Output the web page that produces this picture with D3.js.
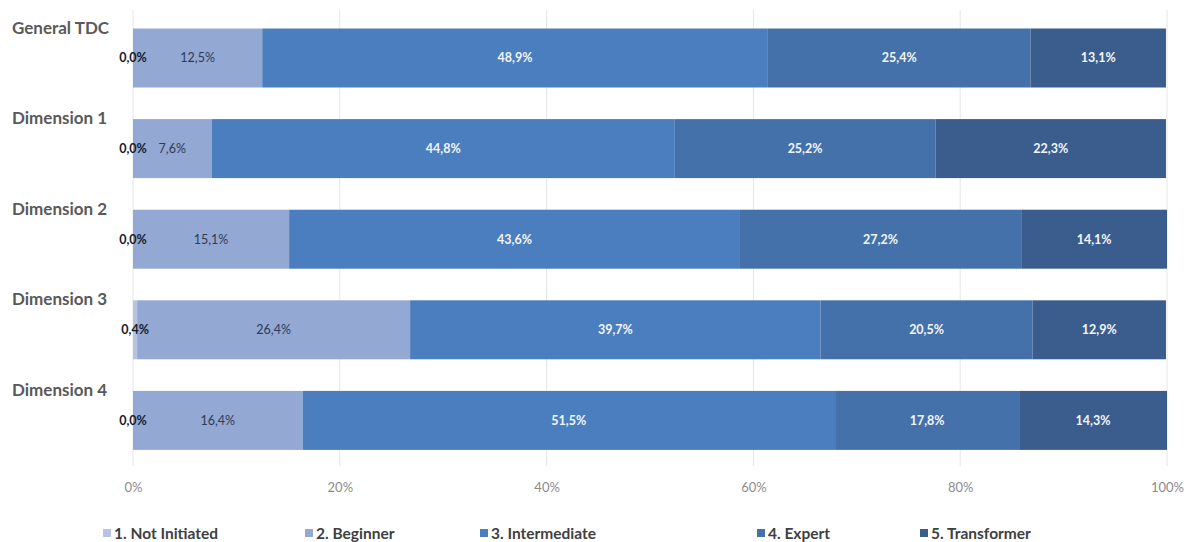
<!DOCTYPE html>
<html>
<head>
<meta charset="utf-8">
<script src="https://cdn.jsdelivr.net/npm/d3@7"></script>
<style>
  html, body { margin: 0; padding: 0; background: #ffffff; }
  svg { display: block; }
</style>
</head>
<body>
<svg id="chart" width="1190" height="542"></svg>
<script>
// Maturity levels per dimension (percent of respondents)
const categories = ["General TDC", "Dimension 1", "Dimension 2", "Dimension 3", "Dimension 4"];
const levels = ["1. Not Initiated", "2. Beginner", "3. Intermediate", "4. Expert", "5. Transformer"];
const notInitiated = [0.0, 0.0, 0.0, 0.4, 0.0];
const beginner     = [12.5, 7.6, 15.1, 26.4, 16.4];
const intermediate = [48.9, 44.8, 43.6, 39.7, 51.5];
const expert       = [25.4, 25.2, 27.2, 20.5, 17.8];
const transformer  = [13.1, 22.3, 14.1, 12.9, 14.3];
const tickValues   = [0, 20, 40, 60, 80, 100];

const seriesValues = [notInitiated, beginner, intermediate, expert, transformer];
const colors = ["#b7c4df", "#93a8d3", "#4a7ebe", "#4471a9", "#3a5d8e"];
const labelColors = ["#141c2c", "#2e3b56", "#f2f6fc", "#f2f6fc", "#f2f6fc"];

const rows = categories.map((c, i) => {
  const r = { category: c };
  levels.forEach((l, j) => { r[l] = seriesValues[j][i]; });
  return r;
});

const svg = d3.select("#chart");
const font = "Lato, 'Open Sans', sans-serif";

const x = d3.scaleLinear().domain([0, 100]).range([133, 1167]);
const y = d3.scaleBand().domain(categories).range([12.7, 465.7])
  .paddingInner(0.349).paddingOuter(0.1745);

// vertical gridlines
svg.append("g")
  .selectAll("line")
  .data(tickValues)
  .join("line")
  .attr("x1", d => x(d)).attr("x2", d => x(d))
  .attr("y1", 10).attr("y2", 466)
  .attr("stroke", "#e6e6e6").attr("stroke-width", 1);

// x axis (labels only, no domain line)
const xAxis = d3.axisBottom(x)
  .tickValues(tickValues)
  .tickSize(0)
  .tickPadding(0)
  .tickFormat(d => d + "%");
const gx = svg.append("g").attr("transform", "translate(0,483)").call(xAxis);
gx.select(".domain").remove();
gx.selectAll("text")
  .attr("fill", "#8c8c8c")
  .attr("font-family", font)
  .attr("font-size", 13)
  .attr("dy", "0.71em");

// stacked segments
const stack = d3.stack().keys(levels);
const stacked = stack(rows);

const layers = svg.append("g")
  .selectAll("g")
  .data(stacked)
  .join("g")
  .attr("fill", (d, i) => colors[i]);

layers.selectAll("rect")
  .data(d => d)
  .join("rect")
  .attr("x", d => x(d[0]))
  .attr("y", d => y(d.data.category))
  .attr("width", d => x(d[1]) - x(d[0]))
  .attr("height", y.bandwidth());

// value labels centred in each segment
const fmt = v => v.toFixed(1).replace(".", ",") + "%";
svg.append("g")
  .selectAll("g")
  .data(stacked)
  .join("g")
  .each(function (layer, i) {
    d3.select(this).selectAll("text")
      .data(layer)
      .join("text")
      .attr("x", d => (x(d[0]) + x(d[1])) / 2)
      .attr("y", d => y(d.data.category) + y.bandwidth() / 2)
      .attr("dy", "0.35em")
      .attr("text-anchor", "middle")
      .attr("font-family", font)
      .attr("font-weight", i === 1 ? 400 : 700)
      .attr("font-size", 12.5)
      .attr("fill", labelColors[i])
      .text(d => fmt(d[1] - d[0]));
  });

// category labels above each bar
svg.append("g")
  .selectAll("text")
  .data(categories)
  .join("text")
  .attr("x", 12)
  .attr("y", d => y(d) + 5)
  .attr("font-family", font)
  .attr("font-weight", 700)
  .attr("font-size", 17)
  .attr("fill", "#595959")
  .text(d => d);

// legend
const legendX = [103, 305, 480, 757, 920];
const legend = svg.append("g")
  .selectAll("g")
  .data(levels)
  .join("g")
  .attr("transform", (d, i) => `translate(${legendX[i]},0)`);
legend.append("rect")
  .attr("x", 0).attr("y", 529)
  .attr("width", 8).attr("height", 8)
  .attr("fill", (d, i) => colors[i]);
legend.append("text")
  .attr("x", 11).attr("y", 539)
  .attr("font-family", font)
  .attr("font-weight", 700)
  .attr("font-size", 15.5)
  .attr("fill", "#404040")
  .text(d => d);
</script>
</body>
</html>
